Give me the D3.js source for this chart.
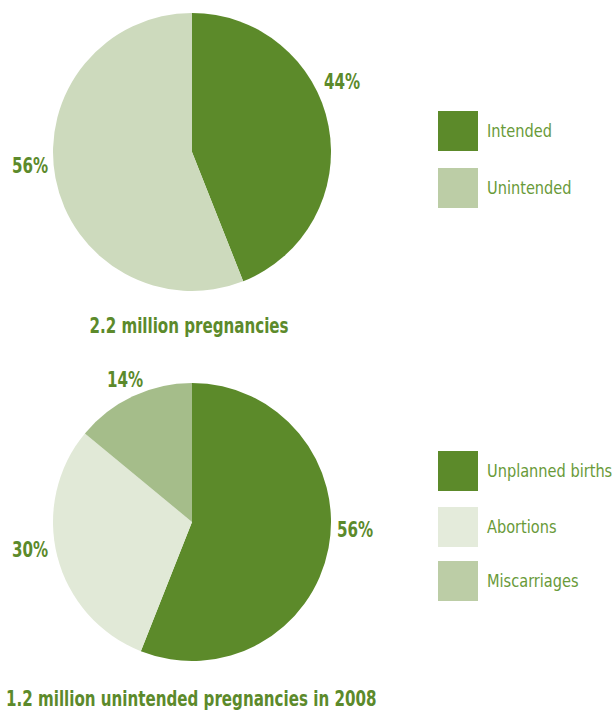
<!DOCTYPE html>
<html>
<head>
<meta charset="utf-8">
<script src="https://cdn.jsdelivr.net/npm/d3@7"></script>
<style>
  html, body { margin: 0; padding: 0; background: #ffffff; }
  svg { display: block; }
  text { font-family: "Liberation Sans Narrow", "DejaVu Sans Condensed", "Roboto Condensed", sans-serif; }
</style>
</head>
<body>
<svg id="chart" width="616" height="710"></svg>
<script>
// Pregnancy outcomes, percentages
const pregnancyCategories = ["Intended", "Unintended"];
const pregnancyValues = [44, 56];
const pregnancyTitle = "2.2 million pregnancies";

const unintendedCategories = ["Unplanned births", "Abortions", "Miscarriages"];
const unintendedValues = [56, 30, 14];
const unintendedTitle = "1.2 million unintended pregnancies in 2008";

const labelColor = "#5c8a2b";
const legendTextColor = "#699a39";

const svg = d3.select("#chart");
const radius = 139;

const pie = d3.pie().sort(null).value(d => d.value);
const arc = d3.arc().innerRadius(0).outerRadius(radius);

// place a text at (x, y) with a horizontal squeeze so it reads as a condensed face
function squeezed(sel, x, y, k) {
  return sel.attr("x", 0).attr("y", 0)
    .attr("transform", `translate(${x},${y}) scale(${k},1)`);
}

function drawPie(cfg) {
  const data = cfg.categories.map((c, i) => ({ name: c, value: cfg.values[i] }));
  const g = svg.append("g").attr("transform", `translate(${cfg.cx},${cfg.cy})`);
  const arcs = pie(data);

  g.selectAll("path")
    .data(arcs)
    .join("path")
    .attr("d", arc)
    .attr("fill", (d, i) => cfg.sliceColors[i]);

  // percentage labels placed outside each slice
  g.selectAll("text.pct")
    .data(arcs)
    .join("text")
    .attr("class", "pct")
    .attr("text-anchor", "middle")
    .attr("font-weight", "bold")
    .attr("font-size", 21)
    .attr("fill", labelColor)
    .text(d => d.data.value + "%")
    .each(function (d, i) {
      squeezed(d3.select(this), cfg.labelPos[i][0], cfg.labelPos[i][1], 0.8);
    });

  // legend
  const lg = svg.append("g").attr("transform", `translate(438,${cfg.legendTop})`);
  const items = lg.selectAll("g")
    .data(data)
    .join("g")
    .attr("transform", (d, i) => `translate(0,${cfg.legendOffsets[i]})`);
  items.append("rect")
    .attr("width", 40).attr("height", 40)
    .attr("fill", (d, i) => cfg.legendColors[i]);
  items.append("text")
    .attr("font-size", 18)
    .attr("fill", legendTextColor)
    .text(d => d.name)
    .each(function () { squeezed(d3.select(this), 49, 26, 0.9); });

  squeezed(svg.append("text"), cfg.titleX, cfg.titleY, 0.8)
    .attr("text-anchor", cfg.titleAnchor)
    .attr("font-weight", "bold")
    .attr("font-size", 21)
    .attr("fill", labelColor)
    .text(cfg.title);
}

drawPie({
  categories: pregnancyCategories,
  values: pregnancyValues,
  title: pregnancyTitle,
  cx: 192, cy: 152,
  sliceColors: ["#5c8a2a", "#cddabd"],
  legendColors: ["#5c8a2a", "#bccda6"],
  labelPos: [[150, -63], [-162, 21]],
  legendTop: 111,
  legendOffsets: [0, 57],
  titleX: 189, titleY: 333, titleAnchor: "middle"
});

drawPie({
  categories: unintendedCategories,
  values: unintendedValues,
  title: unintendedTitle,
  cx: 192, cy: 522,
  sliceColors: ["#5c8a2a", "#e1e9d7", "#a5bd8a"],
  legendColors: ["#5c8a2a", "#e4ebdb", "#bccda6"],
  labelPos: [[163, 15], [-162, 35], [-67, -135]],
  legendTop: 451,
  legendOffsets: [0, 56, 110],
  titleX: 6, titleY: 706, titleAnchor: "start"
});
</script>
</body>
</html>
